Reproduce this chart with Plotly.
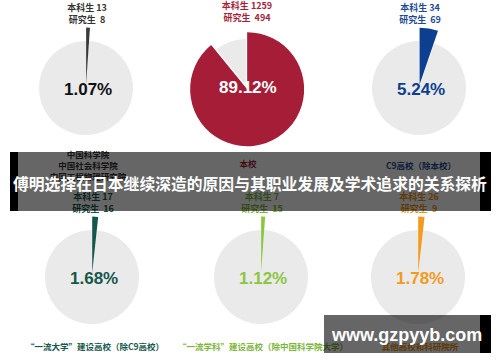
import plotly.graph_objects as go

# ---------------- data ----------------
categories = [
    "中国科学院<br>中国社会科学院<br>中国工程物理研究院",
    "本校",
    "C9高校（除本校）",
    "“一流大学”建设高校（除C9高校）",
    "“一流学科”建设高校（除中国科学院大学）",
    "其他高校和科研院所",
]
undergrad = [13, 1259, 34, 17, 7, 26]
graduate = [8, 494, 69, 16, 15, 9]
share_pct = [1.07, 89.12, 5.24, 1.68, 1.12, 1.78]

title_text = "傅明选择在日本继续深造的原因与其职业发展及学术追求的关系探析"
watermark_text = "www.gzpyyb.com"

# ---------------- style / layout ----------------
W, H = 500, 362
slice_colors = ["#3a3a3a", "#A51D37", "#0C3F8F", "#16574C", "#8CC63F", "#F39A1E"]
pct_colors = ["#111111", "#FFFFFF", "#0C3F8F", "#16574C", "#8CC63F", "#F39A1E"]
label_colors = ["#333333", "#A51D37", "#1C4A94", "#16574C", "#7DB53A", "#E8920F"]
grey = "#EAEAEA"
centers = [(86, 88), (246, 86), (419, 88), (92, 277), (261, 277), (418, 277)]
R_col, r_grey, pull = 57, 47, 0.06

CJK = "Noto Sans CJK SC"
NUMFONT = "Liberation Sans, Arial, sans-serif"


def px_dom(cx, cy, half):
    return dict(x=[(cx - half) / W, (cx + half) / W],
                y=[1 - (cy + half) / H, 1 - (cy - half) / H])


fig = go.Figure()

for i, p in enumerate(share_pct):
    cx, cy = centers[i]
    vals = [p, 100 - p]
    fig.add_trace(go.Pie(
        values=vals, sort=False, direction="clockwise", rotation=0,
        marker=dict(colors=["rgba(0,0,0,0)", grey], line=dict(width=0)),
        textinfo="none", hoverinfo="skip", showlegend=False,
        domain=px_dom(cx, cy, r_grey)))
    fig.add_trace(go.Pie(
        values=vals, sort=False, direction="clockwise", rotation=0,
        pull=[pull, 0],
        marker=dict(colors=[slice_colors[i], "rgba(0,0,0,0)"], line=dict(width=0)),
        textinfo="none", hoverinfo="skip", showlegend=False,
        domain=px_dom(cx, cy, R_col * (1 + pull))))

annotations = []
for i in range(6):
    cx, cy = centers[i]
    fig.add_trace(go.Scatter(
        x=[cx + 1], y=[cy - 73], mode="text", cliponaxis=False,
        text=[f"<b>本科生 {undergrad[i]}<br>研究生  {graduate[i]}</b>"],
        textfont=dict(family=CJK, size=9, color=label_colors[i]),
        hoverinfo="skip", showlegend=False))
    ly = cy + 79 if i < 3 else cy + 71
    fig.add_trace(go.Scatter(
        x=[cx + (2 if i != 3 else 3)], y=[ly], mode="text", cliponaxis=False,
        text=[f"<b>{categories[i]}</b>"],
        textfont=dict(family=CJK, size=8.5, color=label_colors[i]),
        hoverinfo="skip", showlegend=False))
    annotations.append(dict(
        x=cx + 2, y=cy + 1, xref="x", yref="y", showarrow=False,
        text=f"<b>{share_pct[i]:.2f}%</b>",
        font=dict(family=NUMFONT, size=17, color=pct_colors[i])))

shapes = [
    dict(type="rect", xref="x", yref="y", x0=10, x1=18, y0=152, y1=211,
         fillcolor="black", line=dict(width=0), layer="above"),
    dict(type="rect", xref="x", yref="y", x0=18, x1=480, y0=152, y1=211,
         fillcolor="rgba(0,0,0,0.6)", line=dict(width=0), layer="above"),
    dict(type="rect", xref="x", yref="y", x0=480, x1=491, y0=152, y1=211,
         fillcolor="black", line=dict(width=0), layer="above"),
    dict(type="rect", xref="x", yref="y", x0=324, x1=480, y0=315, y1=353,
         fillcolor="rgba(0,0,0,0.6)", line=dict(width=0), layer="above"),
    dict(type="rect", xref="x", yref="y", x0=480, x1=491, y0=315, y1=353,
         fillcolor="black", line=dict(width=0), layer="above"),
]

annotations += [
    dict(x=250, y=183, xref="x", yref="y", text=f"<b>{title_text}</b>",
         showarrow=False, font=dict(family=CJK, size=15.8, color="white")),
    dict(x=406, y=335, xref="x", yref="y", text=f"<b>{watermark_text}</b>",
         showarrow=False, font=dict(family="Liberation Sans, Arial, sans-serif", size=18, color="white")),
]

fig.update_layout(
    width=W, height=H, autosize=False,
    margin=dict(l=0, r=0, t=0, b=0),
    paper_bgcolor="white", plot_bgcolor="rgba(0,0,0,0)",
    xaxis=dict(range=[0, W], visible=False, fixedrange=True),
    yaxis=dict(range=[H, 0], visible=False, fixedrange=True),
    shapes=shapes, annotations=annotations,
)

fig.write_html("out.html", config={"displayModeBar": False},
               post_script="document.body.style.margin='0';")
